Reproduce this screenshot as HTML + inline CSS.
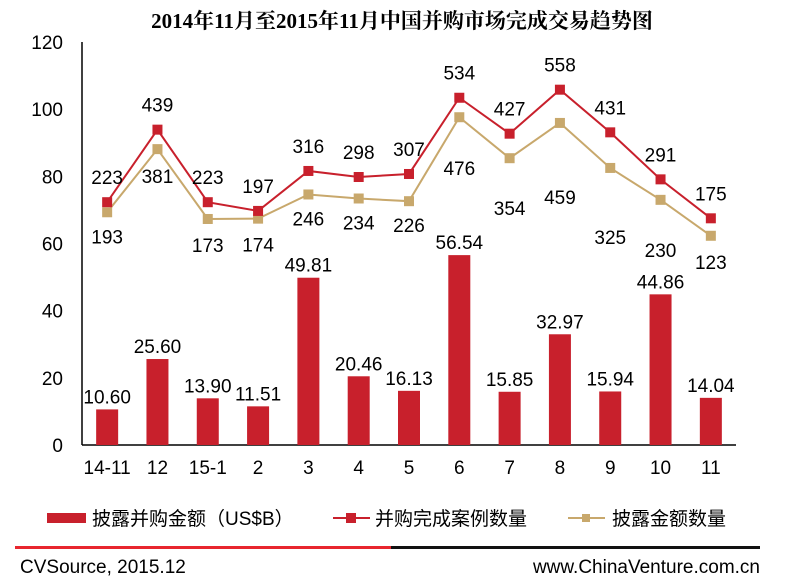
<!DOCTYPE html>
<html><head><meta charset="utf-8"><style>
body{margin:0;background:#fff;width:787px;height:582px;overflow:hidden}
svg text{font-family:"Liberation Sans","Noto Sans CJK SC",sans-serif;fill:#000}
</style></head><body>
<svg id="c" width="787" height="582">
<text x="402" y="28" text-anchor="middle" font-size="21" font-weight="bold" style="font-family:'Liberation Serif','Noto Serif CJK SC',serif">2014年11月至2015年11月中国并购市场完成交易趋势图</text>
<g id="plot"></g>
<g>
<rect x="47" y="513" width="39" height="10" fill="#c8202c"/>
<text x="92" y="525" font-size="19">披露并购金额（US$B）</text>
<line x1="333" y1="518" x2="370" y2="518" stroke="#c8202c" stroke-width="2"/>
<rect x="346" y="513" width="10" height="10" fill="#c8202c"/>
<text x="375" y="525" font-size="19">并购完成案例数量</text>
<line x1="568" y1="518" x2="605" y2="518" stroke="#c8a86c" stroke-width="2"/>
<rect x="582" y="514" width="8" height="8" fill="#c8a86c"/>
<text x="612" y="525" font-size="19">披露金额数量</text>
</g>
<rect x="15" y="546" width="376" height="3" fill="#e8262e"/>
<rect x="391" y="546" width="369" height="3" fill="#111"/>
<text x="20" y="573" font-size="19">CVSource, 2015.12</text>
<text x="760" y="573" font-size="19" text-anchor="end">www.ChinaVenture.com.cn</text>
</svg>
<script>
const categories=["14-11","12","15-1","2","3","4","5","6","7","8","9","10","11"];
const amounts=[10.60,25.60,13.90,11.51,49.81,20.46,16.13,56.54,15.85,32.97,15.94,44.86,14.04];
const deals=[223,439,223,197,316,298,307,534,427,558,431,291,175];
const disclosed=[193,381,173,174,246,234,226,476,354,459,325,230,123];
const yTicks=[0,20,40,60,80,100,120];
const goldLabelOffsets=[24,27,26,26,24,24,24,51,50,74,69,50,26];
const NS="http://www.w3.org/2000/svg";
const g=document.getElementById('plot');
const x0=82,x1=736,yBase=445,yTop=42,yMax=120;
const step=(x1-x0)/categories.length;
const xs=i=>x0+step*(i+0.5);
const ys=v=>yBase-(v/yMax)*(yBase-yTop);
const ys2=c=>ys(50+c/10);
function mk(tag,attrs,txt){const e=document.createElementNS(NS,tag);for(const k in attrs)e.setAttribute(k,attrs[k]);if(txt!==undefined)e.textContent=txt;g.appendChild(e);return e;}
yTicks.forEach(t=>{const e=mk('text',{x:63,y:ys(t)+7,'text-anchor':'end','font-size':19},t);

});
let a=mk('line',{x1:x0,y1:yTop,x2:x0,y2:yBase,stroke:'#000','stroke-width':1.5});


a=mk('line',{x1:x0,y1:yBase,x2:x1,y2:yBase,stroke:'#000','stroke-width':1.5});


categories.forEach((c,i)=>{const e=mk('text',{x:xs(i),y:474,'text-anchor':'middle','font-size':19},c);

});
amounts.forEach((v,i)=>{const r=mk('rect',{x:xs(i)-11,y:ys(v),width:22,height:yBase-ys(v),fill:'#c8202c'});


const t=mk('text',{x:xs(i),y:ys(v)-6,'text-anchor':'middle','font-size':19},v.toFixed(2));

});
function series(arr,color,name,labelFn){
const p=mk('polyline',{points:arr.map((v,i)=>xs(i)+','+ys2(v)).join(' '),fill:'none',stroke:color,'stroke-width':2});


arr.forEach((v,i)=>{const m=mk('rect',{x:xs(i)-5,y:ys2(v)-5,width:10,height:10,fill:color});


const t=mk('text',{x:xs(i),y:ys2(v)+labelFn(i)+7,'text-anchor':'middle','font-size':19},v);

});}
series(disclosed,'#c8a86c','disclosed',i=>goldLabelOffsets[i]);
series(deals,'#c8202c','deals',i=>-25);
</script>
</body></html>
